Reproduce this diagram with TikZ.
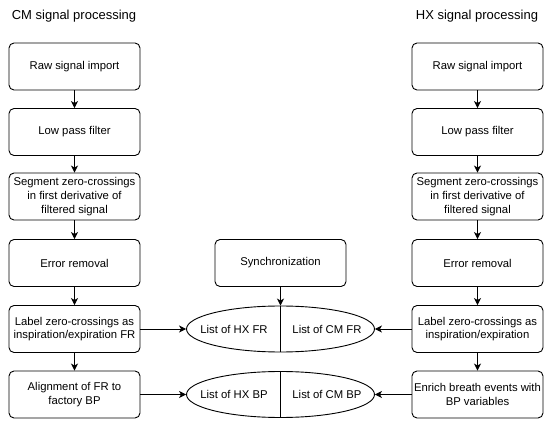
\documentclass[tikz,border=0pt]{standalone}
\usepackage{fontspec}
\setmainfont{Liberation Sans}
\usetikzlibrary{arrows.meta,shapes.geometric}

\tikzset{
  stepbox/.style={draw,rounded corners=5pt,minimum width=131pt,minimum height=47pt,
    align=center,inner sep=1pt,font=\fontsize{11.3}{13.6}\selectfont},
  listshape/.style={draw,ellipse,minimum width=188pt,minimum height=46pt},
  listtext/.style={font=\fontsize{11.3}{13.6}\selectfont},
  heading/.style={font=\fontsize{13}{15}\selectfont},
  flow/.style={-{Stealth[length=7pt,width=7pt,inset=2pt]}},
}

\begin{document}
\begin{tikzpicture}[x=1pt,y=-1pt,line width=0.9pt]
    \useasboundingbox (0,0) rectangle (550,425);
    % headings
    \node[heading] (cmhead) at (74,16) {CM signal processing};
    \node[heading] (hxhead) at (477,16) {HX signal processing};
    % CM column
    \node[stepbox] (cmraw) at (74.5,66.5) {Raw signal import};
    \node[stepbox] (cmlow) at (74.5,132) {Low pass filter};
    \node[stepbox] (cmseg) at (74.5,196.5) {Segment zero-crossings\\in first derivative of\\filtered signal};
    \node[stepbox] (cmerr) at (74.5,263) {Error removal};
    \node[stepbox] (cmlab) at (74.5,329) {Label zero-crossings as\\inspiration/expiration FR};
    \node[stepbox] (cmali) at (74.5,394.5) {Alignment of FR to\\factory BP};
    % HX column
    \node[stepbox] (hxraw) at (477.5,66.5) {Raw signal import};
    \node[stepbox] (hxlow) at (477.5,132) {Low pass filter};
    \node[stepbox] (hxseg) at (477.5,196.5) {Segment zero-crossings\\in first derivative of\\filtered signal};
    \node[stepbox] (hxerr) at (477.5,263) {Error removal};
    \node[stepbox] (hxlab) at (477.5,329) {Label zero-crossings as\\inspiration/expiration};
    \node[stepbox] (hxenr) at (477.5,394.5) {Enrich breath events with\\BP variables};
    % middle
    \node[stepbox] (sync) at (280.5,263) {Synchronization};
    \node[listshape] (frlist) at (280.5,329) {};
    \node[listshape] (bplist) at (280.5,394.5) {};
    \draw (frlist.north) -- (frlist.south);
    \draw (bplist.north) -- (bplist.south);
    \node[listtext] (hxfr) at (234,329) {List of HX FR};
    \node[listtext] (cmfr) at (327,329) {List of CM FR};
    \node[listtext] (hxbp) at (234,394.5) {List of HX BP};
    \node[listtext] (cmbp) at (327,394.5) {List of CM BP};
    % arrows
    \foreach \a/\b in {cmraw/cmlow,cmlow/cmseg,cmseg/cmerr,cmerr/cmlab,cmlab/cmali,
                       hxraw/hxlow,hxlow/hxseg,hxseg/hxerr,hxerr/hxlab,hxlab/hxenr,sync/frlist}
      \draw[flow] (\a.south) -- (\b.north);
    \draw[flow] (cmlab.east) -- (frlist.west);
    \draw[flow] (cmali.east) -- (bplist.west);
    \draw[flow] (hxlab.west) -- (frlist.east);
    \draw[flow] (hxenr.west) -- (bplist.east);
\end{tikzpicture}
\end{document}
